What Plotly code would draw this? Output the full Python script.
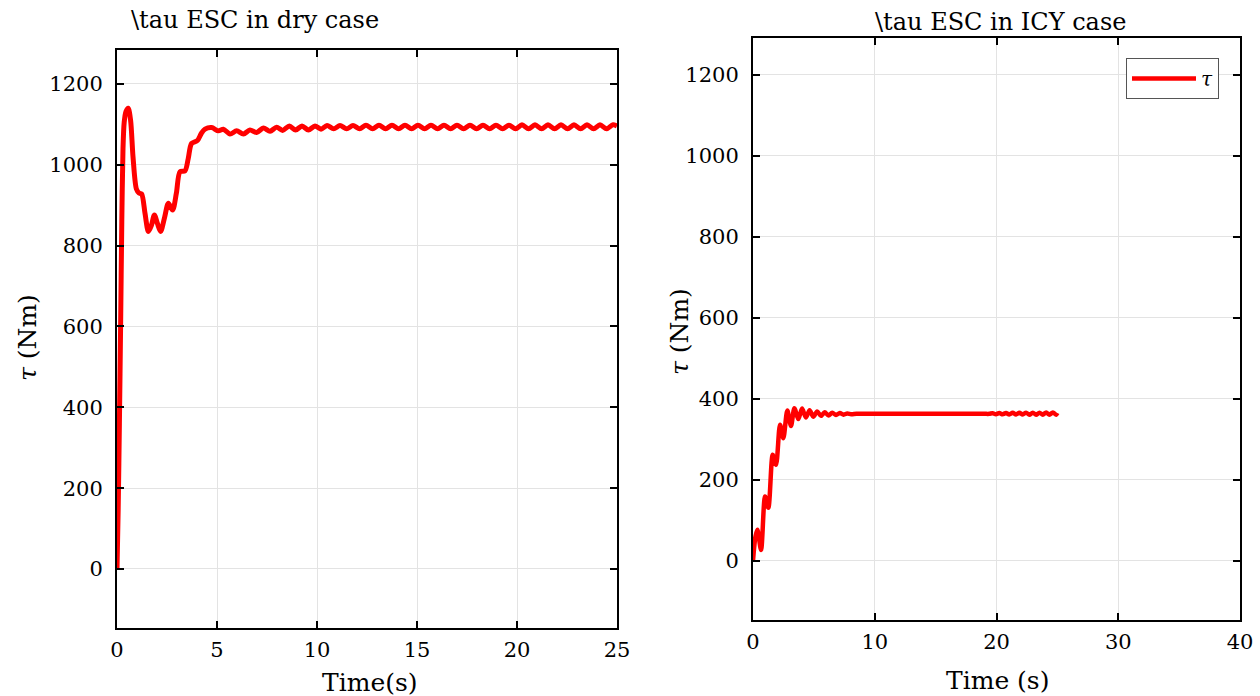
import plotly.graph_objects as go

# ---- dry road: ESC torque (Nm) vs time (s) ----
dry_t = [0, 0.06, 0.12, 0.18, 0.24, 0.30, 0.36, 0.45, 0.56, 0.68, 0.80, 0.97,
         1.10, 1.23, 1.40, 1.57, 1.72, 1.87, 2.02, 2.18, 2.38, 2.57, 2.78, 2.97,
         3.15, 3.40, 3.56, 3.73, 4.02, 4.22, 4.40, 4.73, 5.07, 5.32, 5.65, 5.98,
         6.32, 6.65, 6.98, 7.32, 7.65, 7.98, 8.28, 8.62, 8.93, 9.25, 9.57, 9.90,
         10.20, 10.50, 10.83, 11.15, 11.48, 11.80, 12.13, 12.45, 12.78, 13.10,
         13.43, 13.75, 14.08, 14.40, 14.73, 15.05, 15.38, 15.70, 16.03, 16.35,
         16.68, 17.00, 17.33, 17.65, 17.98, 18.30, 18.63, 18.95, 19.28, 19.60,
         19.93, 20.25, 20.58, 20.90, 21.23, 21.55, 21.88, 22.20, 22.53, 22.85,
         23.18, 23.50, 23.83, 24.15, 24.48, 24.80, 25.00]
dry_tau = [0, 150, 360, 600, 860, 1040, 1105, 1132, 1140, 1110, 1020, 940,
           930, 928, 880, 835, 850, 876, 855, 835, 870, 905, 888, 930,
           983, 985, 1015, 1053, 1060, 1078, 1088, 1092, 1084, 1088, 1076, 1084,
           1076, 1086, 1080, 1091, 1083, 1093, 1085, 1096, 1086, 1096, 1086, 1096,
           1088, 1097, 1089, 1097, 1089, 1097, 1089, 1098, 1089, 1098,
           1089, 1098, 1089, 1098, 1089, 1098, 1089, 1098, 1089, 1098,
           1089, 1098, 1089, 1098, 1089, 1098, 1089, 1098, 1089, 1098,
           1089, 1099, 1089, 1099, 1089, 1099, 1089, 1099, 1089, 1099,
           1089, 1099, 1089, 1099, 1089, 1099, 1096]

# ---- icy road: ESC torque (Nm) vs time (s) ----
icy_t = [0, 0.20, 0.36, 0.66, 0.99, 1.26, 1.62, 1.89, 2.22, 2.49, 2.82, 3.12,
         3.40, 3.72, 4.03, 4.34, 4.65, 4.95, 5.27, 5.58, 5.89, 6.20, 6.51, 6.82,
         7.13, 7.44, 7.75, 8.06, 8.50, 10.0, 13.0, 16.0, 19.0,
         19.40, 19.68, 19.95, 20.23, 20.50, 20.78, 21.05, 21.33, 21.60, 21.88,
         22.15, 22.43, 22.70, 22.98, 23.25, 23.53, 23.80, 24.08, 24.35, 24.63,
         24.90, 25.00]
icy_tau = [0, 60, 77, 27, 159, 131, 262, 237, 336, 303, 371, 333,
           377, 350, 376, 354, 372, 356, 369, 358, 367, 359, 366, 360,
           365, 361, 364, 362, 363, 363, 363, 363, 363,
           363, 364.5, 362, 365, 362, 365, 361.5, 365.5, 361.5, 365.5,
           361.5, 366, 361, 366, 361, 366, 361, 366.5, 361, 366.5,
           361, 365]

dry_xticks = [0, 5, 10, 15, 20, 25]
icy_xticks = [0, 10, 20, 30, 40]
yticks = [0, 200, 400, 600, 800, 1000, 1200]

W, H = 1260, 696
FONT = "DejaVu Serif"
RED = "#ff0000"


def px_x(p):
    return p / W


def px_y(p):
    return 1 - p / H


fig = go.Figure()
fig.add_trace(go.Scatter(x=dry_t, y=dry_tau, mode="lines", name="<i>τ</i>",
                         line=dict(color=RED, width=5, shape="spline", smoothing=0.8),
                         xaxis="x", yaxis="y", showlegend=False))
fig.add_trace(go.Scatter(x=icy_t, y=icy_tau, mode="lines", name="<i>τ</i>",
                         line=dict(color=RED, width=4.5, shape="spline", smoothing=0.8),
                         xaxis="x2", yaxis="y2", showlegend=True))

axis_common = dict(showline=True, linecolor="black", linewidth=2, mirror="ticks",
                   ticks="inside", ticklen=7, tickwidth=1.5, tickcolor="black",
                   showgrid=True, gridcolor="#e3e3e3", gridwidth=1, zeroline=False,
                   tickfont=dict(family=FONT, size=21, color="black"),
                   automargin=False)

fig.update_layout(
    width=W, height=H,
    margin=dict(l=0, r=0, t=0, b=0),
    paper_bgcolor="white", plot_bgcolor="white",
    xaxis=dict(domain=[px_x(117), px_x(617)], range=[0, 25], tickvals=dry_xticks,
               anchor="y", ticklabelstandoff=2, **axis_common),
    yaxis=dict(domain=[px_y(628), px_y(50)], range=[-146, 1284], tickvals=yticks,
               anchor="x", ticklabelstandoff=8, **axis_common),
    xaxis2=dict(domain=[px_x(753), px_x(1240)], range=[0, 40], tickvals=icy_xticks,
                anchor="y2", ticklabelstandoff=2, **axis_common),
    yaxis2=dict(domain=[px_y(620), px_y(38)], range=[-146, 1291], tickvals=yticks,
                anchor="x2", ticklabelstandoff=8, **axis_common),
    legend=dict(x=px_x(1219), y=px_y(58), xanchor="right", yanchor="top",
                bgcolor="white", bordercolor="#555555", borderwidth=1,
                font=dict(family=FONT, size=20, color="black"), itemwidth=64,
                tracegroupgap=0),
    showlegend=True,
)

title_font = dict(family=FONT, size=24, color="black")
label_font = dict(family=FONT, size=25, color="black")
annotations = [
    dict(text="\\tau ESC in dry case", x=px_x(255), y=px_y(20), font=title_font),
    dict(text="\\tau ESC in ICY case", x=px_x(1001), y=px_y(22), font=title_font),
    dict(text="Time(s)", x=px_x(370), y=px_y(682), font=label_font),
    dict(text="Time (s)", x=px_x(997), y=px_y(680), font=label_font),
    dict(text="<i>τ</i> (Nm)", x=px_x(27), y=px_y(338), font=label_font, textangle=-90),
    dict(text="<i>τ</i> (Nm)", x=px_x(679), y=px_y(332), font=label_font, textangle=-90),
]
for a in annotations:
    fig.add_annotation(xref="paper", yref="paper", xanchor="center", yanchor="middle",
                       showarrow=False, **a)

fig.write_html("out.html")
